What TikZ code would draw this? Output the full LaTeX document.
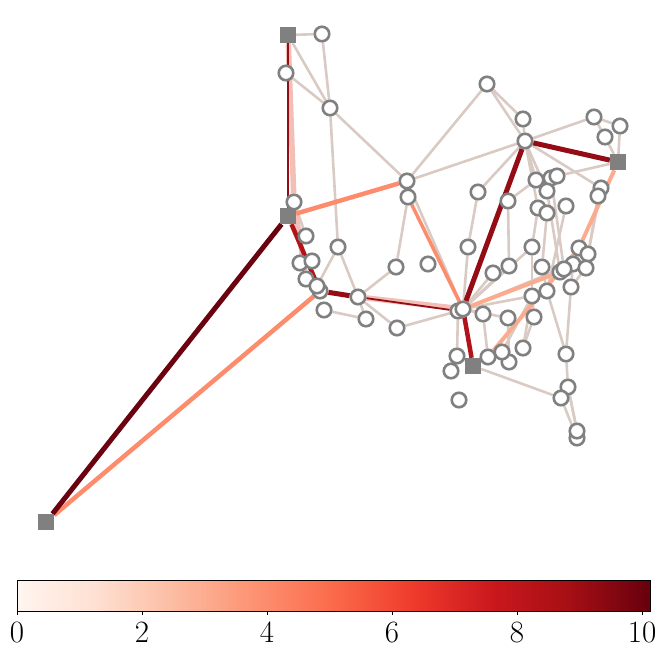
\documentclass[tikz,border=0pt]{standalone}
\usetikzlibrary{backgrounds}
\definecolor{nodegray}{RGB}{128,128,128}
\definecolor{lt}{RGB}{218,202,196}
\definecolor{pk}{RGB}{242,190,182}
\definecolor{sal}{RGB}{252,172,142}
\definecolor{org}{RGB}{252,140,108}
\definecolor{rdA}{RGB}{178,18,26}
\definecolor{rdB}{RGB}{150,12,20}
\definecolor{rdC}{RGB}{106,2,16}
\definecolor{cA}{RGB}{255,245,240}
\definecolor{cB}{RGB}{254,224,210}
\definecolor{cC}{RGB}{252,187,161}
\definecolor{cD}{RGB}{252,146,114}
\definecolor{cE}{RGB}{251,106,74}
\definecolor{cF}{RGB}{239,59,44}
\definecolor{cG}{RGB}{203,24,29}
\definecolor{cH}{RGB}{165,15,21}
\definecolor{cI}{RGB}{103,0,13}
\begin{document}
\begin{tikzpicture}[x=1pt,y=-1pt,
  bus/.style={circle,draw=nodegray,fill=white,line width=2.6pt,minimum size=14.5pt,inner sep=0pt},
  gen/.style={rectangle,fill=nodegray,minimum size=16pt,inner sep=0pt},
  ed/.style={line width=2.6pt,draw=lt},
  edpk/.style={line width=5.5pt,draw=pk},
  edsal/.style={line width=4pt,draw=sal},
  edorg/.style={line width=4.5pt,draw=org},
  edorgt/.style={line width=3.5pt,draw=org},
  edrA/.style={line width=4.5pt,draw=rdA},
  edrB/.style={line width=5pt,draw=rdB},
  edrC/.style={line width=5pt,draw=rdC},
  edthin/.style={line width=1.8pt,draw=rdB},
  tick/.style={line width=0.8pt},
  lab/.style={font=\fontsize{31}{33}\selectfont,inner sep=0pt}]
\useasboundingbox (0,0) rectangle (664,660);
% generators
\node[gen] (G1) at (288,35) {};
\node[gen] (G2) at (288,216) {};
\node[gen] (G3) at (618,162) {};
\node[gen] (G4) at (473,366) {};
\node[gen] (G5) at (46,522) {};
% buses
\node[bus] (n1) at (322,34) {};
\node[bus] (n2) at (286,73) {};
\node[bus] (n3) at (330,108) {};
\node[bus] (n4) at (487,84) {};
\node[bus] (n5) at (523,119) {};
\node[bus] (n7) at (594,117) {};
\node[bus] (n8) at (620,126) {};
\node[bus] (n9) at (605,137) {};
\node[bus] (n10) at (407,181) {};
\node[bus] (n11) at (408,197) {};
\node[bus] (n12) at (294,202) {};
\node[bus] (n13) at (478,192) {};
\node[bus] (n14) at (508,201) {};
\node[bus] (n16) at (551,178) {};
\node[bus] (n15) at (536,180) {};
\node[bus] (n17) at (557,176) {};
\node[bus] (n18) at (547,191) {};
\node[bus] (n19) at (538,208) {};
\node[bus] (n20) at (547,213) {};
\node[bus] (n21) at (566,206) {};
\node[bus] (n22) at (601,188) {};
\node[bus] (n23) at (598,196) {};
\node[bus] (n24) at (306,236) {};
\node[bus] (n25) at (338,247) {};
\node[bus] (n26) at (468,247) {};
\node[bus] (n27) at (532,247) {};
\node[bus] (n28) at (579,248) {};
\node[bus] (n29) at (588,254) {};
\node[bus] (n30) at (300,263) {};
\node[bus] (n31) at (312,261) {};
\node[bus] (n32) at (396,267) {};
\node[bus] (n33) at (428,264) {};
\node[bus] (n34) at (493,273) {};
\node[bus] (n35) at (509,266) {};
\node[bus] (n36) at (542,267) {};
\node[bus] (n37) at (573,264) {};
\node[bus] (n39) at (560,272) {};
\node[bus] (n38) at (564,269) {};
\node[bus] (n40) at (586,268) {};
\node[bus] (n41) at (306,279) {};
\node[bus] (n43) at (320,291) {};
\node[bus] (n42) at (317,286) {};
\node[bus] (n44) at (358,297) {};
\node[bus] (n45) at (571,287) {};
\node[bus] (n46) at (547,291) {};
\node[bus] (n47) at (532,296) {};
\node[bus] (n48) at (324,310) {};
\node[bus] (n49) at (366,319) {};
\node[bus] (n50) at (397,328) {};
\node[bus] (n51) at (458,311) {};
\node[bus] (n52) at (463,309) {};
\node[bus] (n53) at (483,314) {};
\node[bus] (n54) at (508,318) {};
\node[bus] (n55) at (534,317) {};
\node[bus] (n56) at (523,348) {};
\node[bus] (n57) at (457,356) {};
\node[bus] (n58) at (451,371) {};
\node[bus] (n61) at (509,362) {};
\node[bus] (n60) at (502,352) {};
\node[bus] (n59) at (488,357) {};
\node[bus] (n62) at (566,354) {};
\node[bus] (n63) at (568,387) {};
\node[bus] (n64) at (561,398) {};
\node[bus] (n66) at (577,438) {};
\node[bus] (n65) at (577,431) {};
\node[bus] (n67) at (459,400) {};
\node[bus] (n6) at (525,141) {};
\begin{pgfonlayer}{background}
% light edges
\foreach \a/\b in {G1/n1,G1/n3,n2/n3,n1/n3,n3/n10,n3/n25,n10/n4,n10/n6,n4/n5,n4/n6,n5/n6,
  n6/n13,n6/n7,n7/n8,n7/n9,G3/n8,G3/n9,G3/n17,n6/n15,n6/n18,n6/n22,n6/n19,n14/n15,n14/n35,
  n13/n26,n26/n52,n10/n11,n11/n32,n32/n44,n25/n42,n25/n44,n44/n49,n44/n50,n48/n49,n50/n51,
  n52/n34,n52/n35,n52/n27,n52/n47,n52/n37,n51/n57,n52/n53,n53/n59,n54/n61,n52/n54,G4/n64,
  G4/n57,n62/n63,n63/n65,n64/n66,n45/n62,n46/n62,n19/n27,n20/n36,n18/n39,n16/n38,n21/n46,
  n22/n29,n23/n40,n56/n47,n55/n47,n56/n55,n29/n40,n28/n37,n37/n45,n27/n47,n36/n46,
  n12/n24,G2/n24,n60/n47,n65/n63,n40/n45,n10/n52}
  \draw[ed] (\a) -- (\b);
% pink / mixed edges
\draw[edpk] (G1) -- (n12);
\draw[edpk] (n12) -- (n41);
\draw[edpk] (n44) -- (n52);
\draw[edthin] (G1) -- (G2);
\draw[edthin] (n44) -- (n51);
% salmon
\draw[edsal] (G3) -- (n28);
\draw[edsal] (n28) -- (n59);
\draw[edsal] (n52) -- (n39);
% orange
\draw[edorg] (G2) -- (n10);
\draw[edorgt] (n11) -- (n52);
\draw[edorg] (G5) -- (n43);
% red
\draw[edrA] (G2) -- (n43);
\draw[edrB] (n43) -- (n44);
\draw[edrB] (n6) -- (G3);
\draw[edrB] (n6) -- (n52);
\draw[edrA] (n52) -- (G4);
\draw[edrC] (G5) -- (G2);
\end{pgfonlayer}
% colorbar
\shade[left color=cA,right color=cB] (17,580) rectangle (96.5,611);
\shade[left color=cB,right color=cC] (96,580) rectangle (175.5,611);
\shade[left color=cC,right color=cD] (175,580) rectangle (254.5,611);
\shade[left color=cD,right color=cE] (254,580) rectangle (333.5,611);
\shade[left color=cE,right color=cF] (333,580) rectangle (412.5,611);
\shade[left color=cF,right color=cG] (412,580) rectangle (491.5,611);
\shade[left color=cG,right color=cH] (491,580) rectangle (570.5,611);
\shade[left color=cH,right color=cI] (570,580) rectangle (650,611);
\node[draw,line width=0.8pt,minimum width=633pt,minimum height=31pt,inner sep=0pt] (cb) at (333.5,595.5) {};
\foreach \v/\x in {0/17,2/142,4/267,6/392,8/517,10/642}{
  \draw[tick] (\x,611) -- (\x,615);
  \node[lab,anchor=north] (t\v) at (\x,622) {\v};
}
\end{tikzpicture}
\end{document}
